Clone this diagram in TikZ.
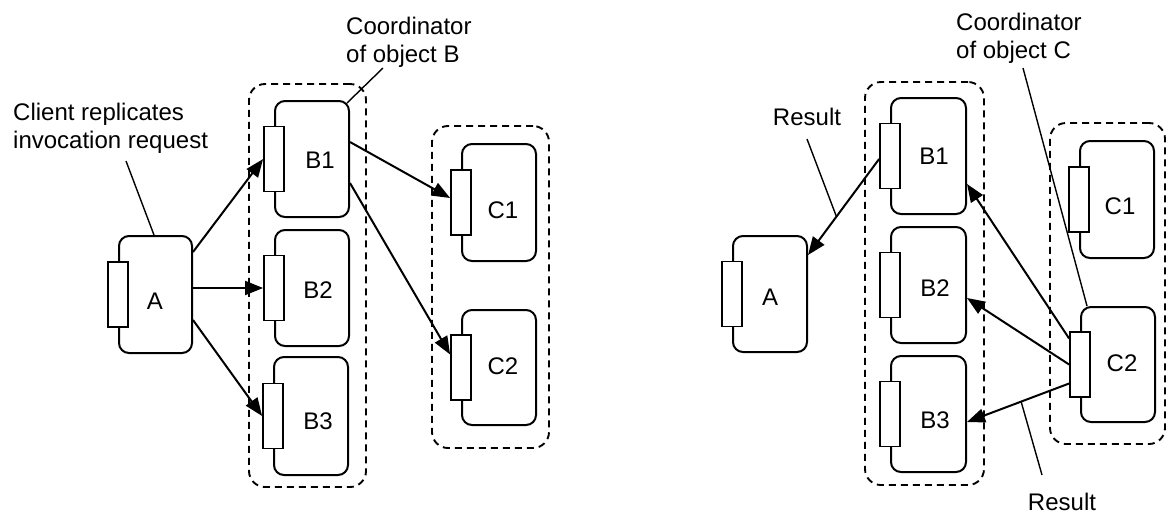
\documentclass[tikz,border=0pt]{standalone}
\usepackage{fontspec}
\setmainfont{Liberation Sans}
\usetikzlibrary{arrows.meta,calc}
\begin{document}
\begin{tikzpicture}[x=1pt,y=-1pt,
  obj/.style={draw, line width=2pt, rounded corners=10pt, minimum width=74pt, minimum height=116pt, inner sep=0pt},
  iface/.style={draw, fill=white, line width=1.8pt, minimum width=20pt, minimum height=65pt, inner sep=0pt},
  grp/.style={draw, line width=1.9pt, dash pattern=on 7pt off 5pt, rounded corners=16pt, inner sep=0pt},
  lbl/.style={font=\fontsize{24}{28}\selectfont, inner sep=0pt},
  note/.style={font=\fontsize{24}{28}\selectfont, inner sep=0pt, align=left},
  arr/.style={line width=2pt, -{Triangle[length=18pt,width=14pt]}},
  ptr/.style={line width=1.4pt},
]
\useasboundingbox (0,0) rectangle (1167,515);

% ---------- left diagram ----------
\node[grp, minimum width=117pt, minimum height=403pt] (LGB) at (307.5,285.5) {};
\node[grp, minimum width=117pt, minimum height=322pt] (LGC) at (490.5,287) {};

\node[obj, minimum width=73pt, minimum height=117pt] (LA) at (155.5,294.5) {};
\node[obj] (LB1) at (312,159) {};
\node[obj] (LB2) at (312,288) {};
\node[obj, minimum height=118pt] (LB3) at (311,416) {};
\node[obj, minimum height=117pt] (LC1) at (499,202.5) {};
\node[obj, minimum height=115pt] (LC2) at (499,367.5) {};

\node[iface] (LAr) at (LA.west) {};
\node[iface] (LB1r) at (LB1.west) {};
\node[iface] (LB2r) at (LB2.west) {};
\node[iface] (LB3r) at (LB3.west) {};
\node[iface] (LC1r) at (LC1.west) {};
\node[iface] (LC2r) at (LC2.west) {};

\node[lbl] (LAt) at (155,301.5) {A};
\node[lbl] (LB1t) at (320,160) {B1};
\node[lbl] (LB2t) at (318,290) {B2};
\node[lbl] (LB3t) at (318,421.5) {B3};
\node[lbl] (LC1t) at (503,210) {C1};
\node[lbl] (LC2t) at (503,366.5) {C2};

\draw[arr] ([yshift=42.5pt]LA.east) -- (LB1r.west);
\draw[arr] ([yshift=6.5pt]LA.east) -- (LB2r.west);
\draw[arr] ([yshift=-25.5pt]LA.east) -- (LB3r.west);
\draw[arr] ([yshift=17pt]LB1.east) -- ([yshift=4.5pt]LC1r.west);
\draw[arr] ([yshift=-24pt]LB1.east) -- ([yshift=13pt]LC2r.west);

\node[note, anchor=north west] (tCl) at (13,103) {Client replicates\\invocation request};
\node[note, anchor=north west] (tCB) at (346,17) {Coordinator\\of object B};
\coordinate (pCl) at (126,161);
\coordinate (pCB) at (383,68);
\draw[ptr] (pCl) -- ([xshift=-1.5pt]LA.north);
\draw[ptr] (pCB) -- ([xshift=-3pt,yshift=-3pt]LB1.north east);

% ---------- right diagram ----------
\node[grp, minimum width=119pt, minimum height=403pt] (RGB) at (924.5,283.5) {};
\node[grp, minimum width=115pt, minimum height=321pt] (RGC) at (1107.5,283.5) {};

\node[obj] (RA) at (770,294) {};
\node[obj, minimum width=75pt] (RB1) at (928.5,156) {};
\node[obj, minimum width=75pt] (RB2) at (928.5,285) {};
\node[obj, minimum width=75pt] (RB3) at (928.5,414) {};
\node[obj, minimum height=117pt] (RC1) at (1117,199.5) {};
\node[obj, minimum height=115pt] (RC2) at (1118,364.5) {};

\node[iface] (RAr) at (RA.west) {};
\node[iface] (RB1r) at (RB1.west) {};
\node[iface] (RB2r) at (RB2.west) {};
\node[iface] (RB3r) at (RB3.west) {};
\node[iface] (RC1r) at (RC1.west) {};
\node[iface] (RC2r) at (RC2.west) {};

\node[lbl] (RAt) at (770,297) {A};
\node[lbl] (RB1t) at (934,156.5) {B1};
\node[lbl] (RB2t) at (935,288.5) {B2};
\node[lbl] (RB3t) at (935,420) {B3};
\node[lbl] (RC1t) at (1120,206.5) {C1};
\node[lbl] (RC2t) at (1122,363.5) {C2};

\draw[arr] ([yshift=-3pt]RB1r.west) -- coordinate[pos=0.6] (rq1) ([yshift=39pt]RA.east);
\draw[arr] ([yshift=26pt]RC2r.west) -- ([yshift=-28pt]RB1.east);
\draw[arr] (RC2r.west) -- ([yshift=-13pt]RB2.east);
\draw[arr] ([yshift=-19pt]RC2r.west) -- coordinate[pos=0.47] (rq2) ([yshift=-8pt]RB3.east);

\node[lbl, anchor=north] (tR1) at (807,108) {Result};
\node[lbl, anchor=north] (tR2) at (1062,493) {Result};
\node[note, anchor=north west] (tCC) at (956,13) {Coordinator\\of object C};
\coordinate (pR1) at (807,139);
\coordinate (pR2) at (1042,475);
\coordinate (pCC) at (1023,68);
\draw[ptr] (pR1) -- (rq1);
\draw[ptr] (pR2) -- (rq2);
\draw[ptr] (pCC) -- ([xshift=7pt]RC2.north west);
\end{tikzpicture}
\end{document}
